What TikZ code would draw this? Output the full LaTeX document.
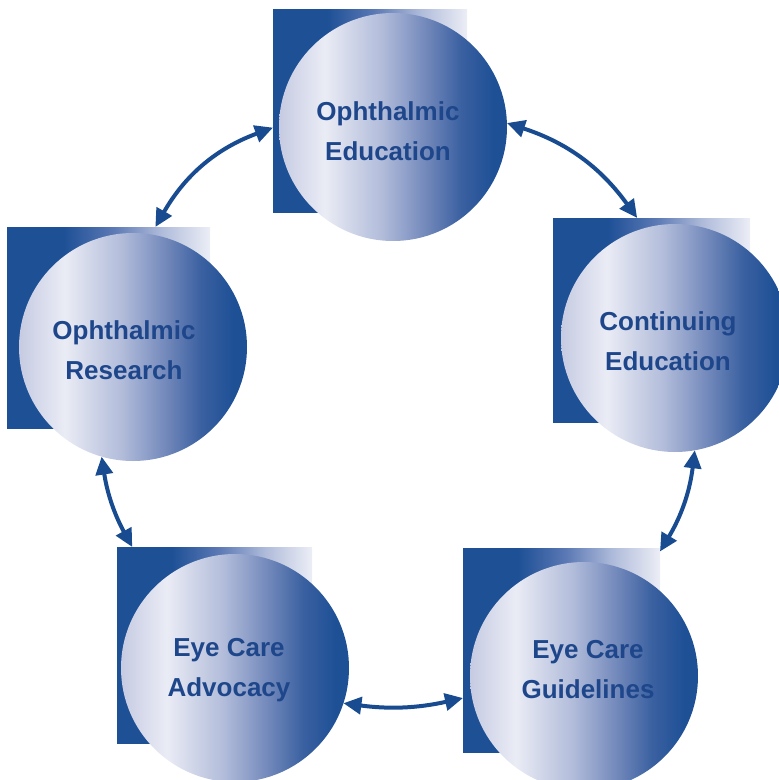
\documentclass[tikz,border=0pt]{standalone}
\usepackage{fontspec}
\setmainfont{Liberation Sans}
\usetikzlibrary{arrows.meta}

% palette
\definecolor{navy}{RGB}{30,80,150}
\definecolor{inkblue}{RGB}{30,70,138}
\definecolor{linkblue}{RGB}{25,75,145}
\definecolor{orbA}{RGB}{198,203,226}
\definecolor{orbB}{RGB}{234,236,245}
\definecolor{orbC}{RGB}{178,188,218}
\definecolor{orbD}{RGB}{112,135,186}
\definecolor{orbE}{RGB}{58,96,160}
\definecolor{tileB}{RGB}{90,120,180}
\definecolor{tileC}{RGB}{175,187,218}
\definecolor{tileD}{RGB}{236,238,246}

% left-to-right shadings; the path spans 25bp..75bp
\pgfdeclarehorizontalshading{orbshade}{100bp}{%
  color(0bp)=(orbA); color(25bp)=(orbA); color(35bp)=(orbB);
  color(47.5bp)=(orbC); color(57.5bp)=(orbD); color(65bp)=(orbE);
  color(72bp)=(navy); color(100bp)=(navy)}
\pgfdeclarehorizontalshading{tileshade}{100bp}{%
  color(0bp)=(navy); color(25bp)=(navy); color(39bp)=(navy);
  color(51bp)=(tileB); color(63bp)=(tileC); color(75bp)=(tileD);
  color(100bp)=(tileD)}

\begin{document}
\begin{tikzpicture}[x=1pt,y=-1pt,
  tile/.style={rectangle, shading=tileshade, inner sep=0pt, outer sep=0pt},
  orb/.style={circle, shading=orbshade, minimum size=228pt, inner sep=0pt, outer sep=0pt},
  caption/.style={text=inkblue, font=\bfseries\fontsize{26}{40}\selectfont, align=center},
  link/.style={draw=linkblue, line width=4pt,
    {Triangle[length=18pt,width=17pt]}-{Triangle[length=18pt,width=17pt]}}]

\useasboundingbox (0,0) rectangle (779,780);

% backing tiles
\node[tile, minimum width=194pt, minimum height=203pt] (eduSq)  at (370,110.5) {};
\node[tile, minimum width=203pt, minimum height=201pt] (resSq)  at (108.5,327.5) {};
\node[tile, minimum width=197pt, minimum height=204pt] (contSq) at (651.5,320) {};
\node[tile, minimum width=195pt, minimum height=196pt] (advSq)  at (214.5,645) {};
\node[tile, minimum width=197pt, minimum height=204pt] (guidSq) at (561.5,650) {};

% discs
\node[orb] (edu)  at (393,127) {};
\node[orb] (res)  at (133,347) {};
\node[orb] (cont) at (675,338) {};
\node[orb] (adv)  at (235,668) {};
\node[orb] (guid) at (584,676) {};

% captions
\node[caption] (eduT)  at (388,131) {Ophthalmic\\Education};
\node[caption] (resT)  at (124,350) {Ophthalmic\\Research};
\node[caption] (contT) at (668,341) {Continuing\\Education};
\node[caption] (advT)  at (229,670) {Eye Care\\Advocacy};
\node[caption] (guidT) at (588,670) {Eye Care\\Guidelines};

% two-way links
\draw[link] (eduSq.190) to[bend right=20] (resSq.65);
\draw[link] (edu.2) to[bend left=18] (contSq.98);
\draw[link] (cont.280) to[bend left=12] (guidSq.45);
\draw[link] (res.254) to[bend right=10] (advSq.130);
\draw[link] (adv.342) to[bend right=10] (guidSq.206);
\end{tikzpicture}
\end{document}
